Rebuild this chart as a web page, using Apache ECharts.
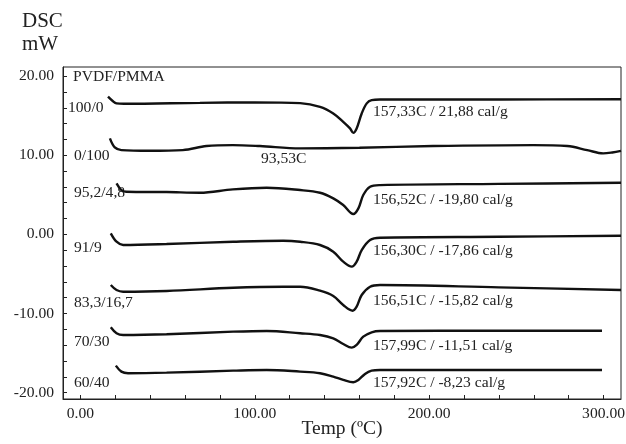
<!DOCTYPE html>
<html>
<head>
<meta charset="utf-8">
<script src="https://cdn.jsdelivr.net/npm/echarts@6/dist/echarts.min.js"></script>
<style>html,body{margin:0;padding:0;background:#fff}#c{width:626px;height:444px}</style>
</head>
<body>
<div id="c"></div>
<script>
// Tick values / labels
const xLabelValues = [0, 100, 200, 300];
const xTickValues = [0, 20, 40, 60, 80, 100, 120, 140, 160, 180, 200, 220, 240, 260, 280, 300];
const yLabelValues = [-20, -10, 0, 10, 20];
const yTickValues = [-20, -18, -16, -14, -12, -10, -8, -6, -4, -2, 0, 2, 4, 6, 8, 10, 12, 14, 16, 18, 20];

// Sample names (PVDF/PMMA)
const sampleNames = ['100/0', '0/100', '95,2/4,8', '91/9', '83,3/16,7', '70/30', '60/40'];
const peakLabels = ['157,33C / 21,88 cal/g', '93,53C', '156,52C / -19,80 cal/g', '156,30C / -17,86 cal/g',
                    '156,51C / -15,82 cal/g', '157,99C / -11,51 cal/g', '157,92C / -8,23 cal/g'];

// DSC curves [Temp (ºC), mW]
const c100_0 = [[15.8,17.4],[18.5,16.85],[20.7,16.55],[25,16.5],[68.5,16.62],[100,16.68],[126,16.58],[137.4,16.12],[145,15.28],[150.7,14.22],[154.6,13.39],[156.5,12.83],[158.4,13.39],[161.3,15.28],[164.2,16.55],[167,16.96],[171.8,17.05],[240,17.05],[310,17.08]];
const c0_100 = [[16.9,12.13],[19.7,10.99],[23.5,10.65],[39.8,10.56],[58.7,10.65],[72.3,11.16],[87.4,11.28],[102.9,11.16],[126,10.87],[160,10.95],[202.2,11.16],[259.6,11.28],[279.2,11.16],[290.6,10.65],[299.8,10.23],[305,10.35],[310,10.56]];
const c95_5 = [[20.7,6.45],[23.5,5.6],[26.4,5.39],[49.4,5.35],[68.5,5.26],[87.4,5.69],[106.8,5.89],[126,5.6],[137.4,5.26],[145,4.55],[150.7,3.71],[156.5,2.57],[159.4,3.29],[162.2,4.97],[166.1,6.02],[171.8,6.23],[240,6.38],[310,6.52]];
const c91_9 = [[17.4,0.13],[20.7,-0.93],[24.5,-1.34],[49.4,-1.22],[87.6,-0.93],[116.3,-0.8],[126,-0.93],[137.4,-1.34],[145,-2.19],[150.7,-3.45],[155.6,-4.08],[158.4,-3.45],[161.3,-1.98],[166.1,-0.71],[171.8,-0.42],[240,-0.3],[310,-0.17]];
const c83_17 = [[17.4,-6.4],[20.7,-7.03],[24.5,-7.24],[49.4,-7.15],[87.6,-6.74],[116.3,-6.61],[126,-6.61],[137.4,-7.11],[145,-7.78],[150.7,-8.92],[156.1,-9.64],[158.4,-9.14],[161.3,-7.66],[166.1,-6.61],[171.8,-6.39],[240,-6.7],[310,-7.03]];
const c70_30 = [[17.4,-11.74],[20.7,-12.49],[24.5,-12.71],[49.4,-12.62],[87.6,-12.29],[106.8,-12.2],[126,-12.49],[137.4,-12.71],[145,-13.13],[150.7,-13.85],[155.6,-14.31],[158.4,-13.97],[162.2,-12.92],[167,-12.37],[171.8,-12.2],[240,-12.18],[299.1,-12.17]];
const c60_40 = [[20.3,-16.58],[23.5,-17.34],[27.3,-17.54],[49.4,-17.47],[87.6,-17.22],[106.8,-17.13],[126,-17.34],[137.4,-17.54],[145,-17.97],[150.7,-18.39],[156.5,-18.68],[159.4,-18.39],[163.2,-17.63],[167,-17.22],[171.8,-17.13],[240,-17.13],[299.1,-17.13]];
const curves = [c100_0, c0_100, c95_5, c91_9, c83_17, c70_30, c60_40];

const FONT = '"Liberation Serif", "DejaVu Serif", serif';
const TXT = '#222';
const FS = 15.6;

const chart = echarts.init(document.getElementById('c'), null, {renderer: 'canvas'});

const leftLabelPos = [[68,107.5],[74,156],[74,193],[74,247.5],[74,303],[74,342],[74,382.5]];
const peakLabelPos = [[373,112],[261,158.5],[373,200],[373,250.5],[373,300.5],[373,345.5],[373,383]];

const graphics = [];
graphics.push({type:'text', x:22, y:21, style:{text:'DSC', font:'21px ' + FONT, fill:TXT, verticalAlign:'middle'}});
graphics.push({type:'text', x:22, y:44, style:{text:'mW', font:'21px ' + FONT, fill:TXT, verticalAlign:'middle'}});
graphics.push({type:'text', x:73, y:77, style:{text:'PVDF/PMMA', font:FS + 'px ' + FONT, fill:TXT, verticalAlign:'middle'}});
sampleNames.forEach((n, i) => {
  graphics.push({type:'text', x:leftLabelPos[i][0], y:leftLabelPos[i][1], style:{text:n, font:FS + 'px ' + FONT, fill:TXT, verticalAlign:'middle'}});
  graphics.push({type:'text', x:peakLabelPos[i][0], y:peakLabelPos[i][1], style:{text:peakLabels[i], font:FS + 'px ' + FONT, fill:TXT, verticalAlign:'middle'}});
});

chart.setOption({
  animation: false,
  backgroundColor: '#fff',
  grid: {left: 63, right: 5, top: 67, bottom: 45, outerBoundsMode: 'none', containLabel: false,
         show: true, borderColor: '#222', borderWidth: 1, backgroundColor: 'transparent'},
  xAxis: {
    type: 'value', min: -10, max: 310,
    name: 'Temp (ºC)', nameLocation: 'middle', nameGap: 20, nameMoveOverlap: false,
    nameTextStyle: {fontFamily: FONT, fontSize: 19.5, color: TXT, verticalAlign: 'top'},
    axisLine: {show: true, onZero: false, lineStyle: {color: '#222', width: 1}},
    axisTick: {show: true, inside: true, length: 4, customValues: xTickValues, lineStyle: {color: '#222'}},
    axisLabel: {customValues: xLabelValues, formatter: v => v.toFixed(2), fontFamily: FONT, fontSize: FS, color: TXT, margin: 7},
    splitLine: {show: false}
  },
  yAxis: {
    type: 'value', min: -20.8, max: 21.15,
    axisLine: {show: true, onZero: false, lineStyle: {color: '#222', width: 1}},
    axisTick: {show: true, inside: true, length: 4, customValues: yTickValues, lineStyle: {color: '#222'}},
    axisLabel: {customValues: yLabelValues, formatter: v => v.toFixed(2), fontFamily: FONT, fontSize: FS, color: TXT, margin: 9},
    splitLine: {show: false}
  },
  series: curves.map((d, i) => ({
    type: 'line', name: sampleNames[i], data: d, smooth: 0.35, showSymbol: false,
    lineStyle: {color: '#111', width: 2.4}, silent: true
  })),
  graphic: graphics
});
</script>
</body>
</html>
